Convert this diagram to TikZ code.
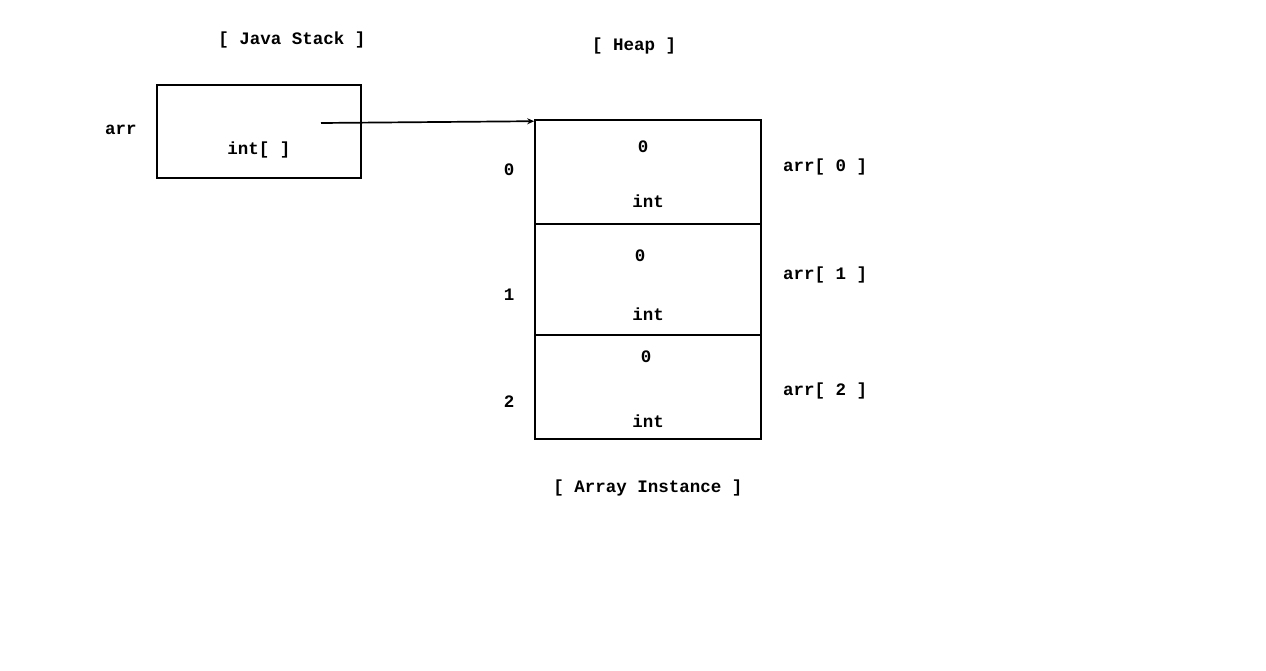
\documentclass[tikz,border=0pt]{standalone}
\usepackage{fontspec}
\setmonofont{Liberation Mono}
\usetikzlibrary{arrows.meta}
\begin{document}
\begin{tikzpicture}[x=1pt,y=-1pt,
  lbl/.style={font=\ttfamily\bfseries\fontsize{17.5}{20}\selectfont, inner sep=0pt},
  box/.style={draw, line width=1.6pt, inner sep=0pt, minimum width=226pt},
  link/.style={line width=1.7pt, -{Stealth[length=7pt,width=6pt]}}]
\useasboundingbox (0,0) rectangle (1266,671);
\node[box, minimum width=204pt, minimum height=93pt] (stack) at (259,131.5) {};
\node[box, minimum height=104pt] (c0) at (648,172) {};
\node[box, minimum height=111pt] (c1) at (648,279.5) {};
\node[box, minimum height=104pt] (c2) at (648,387) {};
\node[lbl] (tstack) at (292,40) {[ Java Stack ]};
\node[lbl] (theap) at (634,46) {[ Heap ]};
\node[lbl] (tarr) at (121,130) {arr};
\node[lbl] (tint) at (259,150) {int[ ]};
\node[lbl] (i0) at (509,170) {0};
\node[lbl] (i1) at (509,295) {1};
\node[lbl] (i2) at (509,402) {2};
\node[lbl] (v0) at (643,147) {0};
\node[lbl] (t0) at (648,201) {int};
\node[lbl] (v1) at (640,256) {0};
\node[lbl] (t1) at (648,314) {int};
\node[lbl] (v2) at (646,357) {0};
\node[lbl] (t2) at (648,421) {int};
\node[lbl] (a0) at (825,167) {arr[ 0 ]};
\node[lbl] (a1) at (825,275) {arr[ 1 ]};
\node[lbl] (a2) at (825,391) {arr[ 2 ]};
\node[lbl] (tinst) at (648,488) {[ Array Instance ]};
\coordinate (src) at (321,123);
\draw[link] (src) -- ([yshift=-2pt]c0.north west);
\end{tikzpicture}
\end{document}
